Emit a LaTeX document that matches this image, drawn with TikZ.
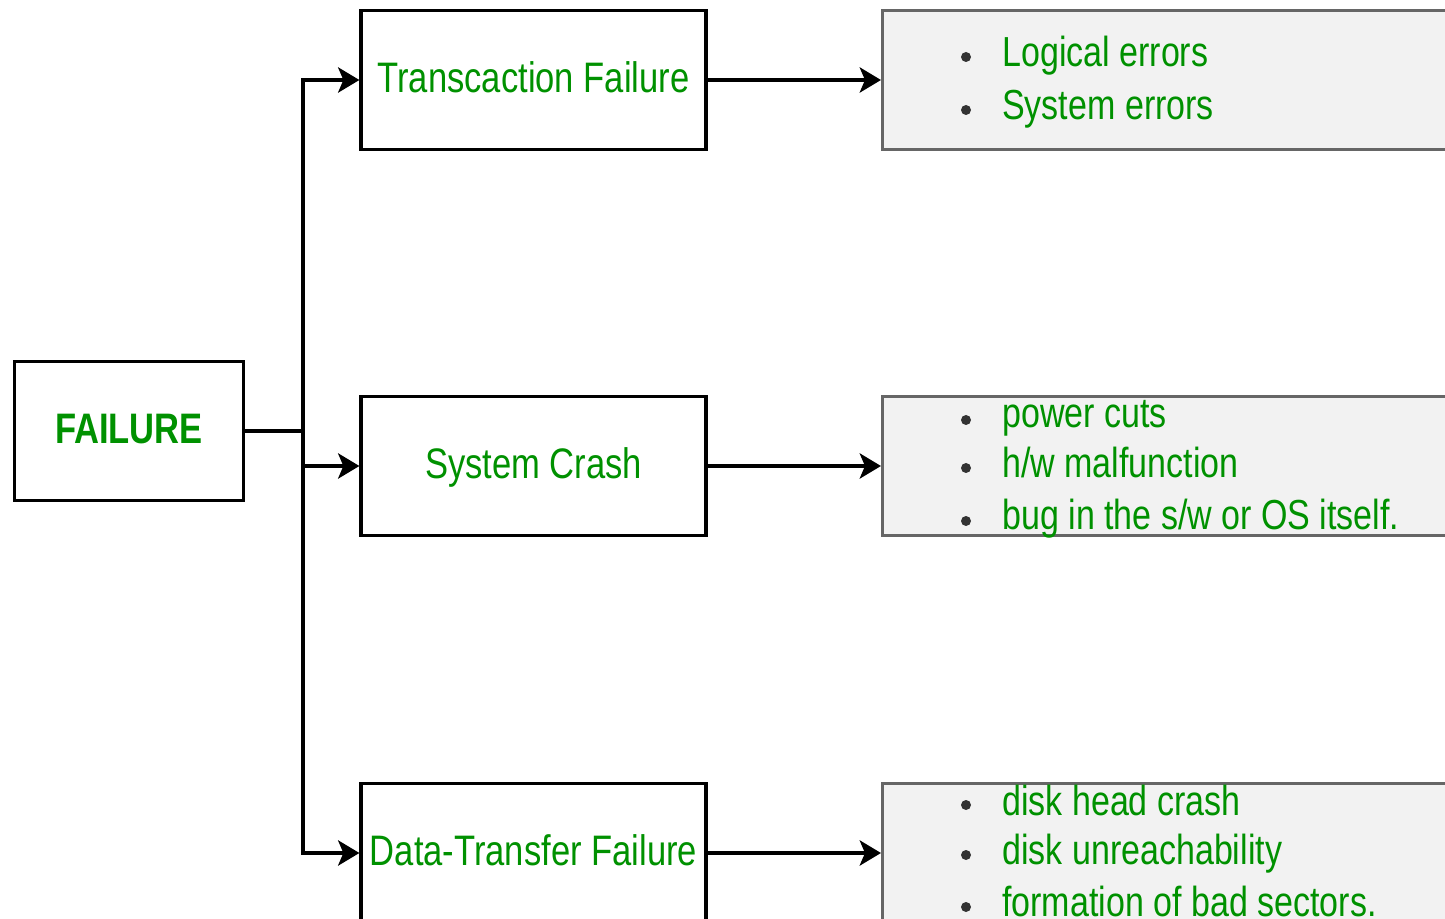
\documentclass[tikz,border=0pt]{standalone}
\usepackage{fontspec}
\setmainfont{Liberation Sans}[FakeStretch=0.81]
\usetikzlibrary{arrows.meta}
\definecolor{txtgreen}{RGB}{0,145,0}
\definecolor{boxgray}{RGB}{242,242,242}
\definecolor{bordergray}{RGB}{102,102,102}
\definecolor{dotgray}{RGB}{51,51,51}
\begin{document}
\begin{tikzpicture}[x=0.75pt,y=-0.75pt,
  mainbox/.style={draw=black,line width=2.4pt,fill=white,minimum width=258.75pt,
    minimum height=104.25pt,inner sep=0pt,text=txtgreen,
    font=\fontsize{32}{38}\selectfont,text height=22.9pt,text depth=4pt},
  rootbox/.style={mainbox,minimum width=171.75pt,font=\fontsize{32}{38}\selectfont\bfseries},
  listbox/.style={draw=bordergray,line width=2.25pt,fill=boxgray,minimum width=435pt,
    minimum height=104.25pt,inner sep=0pt},
  item/.style={anchor=base west,inner sep=0pt,text=txtgreen,font=\fontsize{31.5}{38}\selectfont},
  dot/.style={circle,fill=dotgray,minimum size=7.5pt,inner sep=0pt},
  conn/.style={draw=black,line width=2.4pt},
  arr/.style={conn,-{Stealth[length=16pt,width=19pt,inset=4pt]}}]
\clip (0,0) rectangle (1445,919);
\fill[white] (0,0) rectangle (1445,919);

% main nodes
\node[rootbox] (fail) at (129,431) {FAILURE};
\node[mainbox] (t1) at (533.5,80) {Transcaction Failure};
\node[mainbox] (t2) at (533.5,466) {System Crash};
\node[mainbox] (t3) at (533.5,853) {Data-Transfer Failure};

% list boxes
\node[listbox] (r1) at (1172.5,80) {};
\node[listbox] (r2) at (1172.5,466) {};
\node[listbox] (r3) at (1172.5,853) {};

% connectors
\coordinate (bus) at (303,431);
\draw[conn] (fail.east) -- (bus);
\draw[arr] (bus) |- (t1.west);
\draw[arr] (bus) |- (t2.west);
\draw[arr] (bus) |- (t3.west);
\draw[arr] (t1.east) -- (r1.west);
\draw[arr] (t2.east) -- (r2.west);
\draw[arr] (t3.east) -- (r3.west);

% list 1
\node[dot] (d11) at (966,57) {};
\node[item] (l11) at (1002,67) {Logical errors};
\node[dot] (d12) at (966,110) {};
\node[item] (l12) at (1002,120) {System errors};

% list 2
\node[dot] (d21) at (966,420) {};
\node[item] (l21) at (1002,428) {power cuts};
\node[dot] (d22) at (966,468) {};
\node[item] (l22) at (1002,478) {h/w malfunction};
\node[dot] (d23) at (966,521) {};
\node[item] (l23) at (1002,529) {bug in the s/w or OS itself.};

% list 3
\node[dot] (d31) at (966,805) {};
\node[item] (l31) at (1002,815) {disk head crash};
\node[dot] (d32) at (966,855) {};
\node[item] (l32) at (1002,864) {disk unreachability};
\node[dot] (d33) at (966,907) {};
\node[item] (l33) at (1002,916) {formation of bad sectors.};
\end{tikzpicture}
\end{document}
